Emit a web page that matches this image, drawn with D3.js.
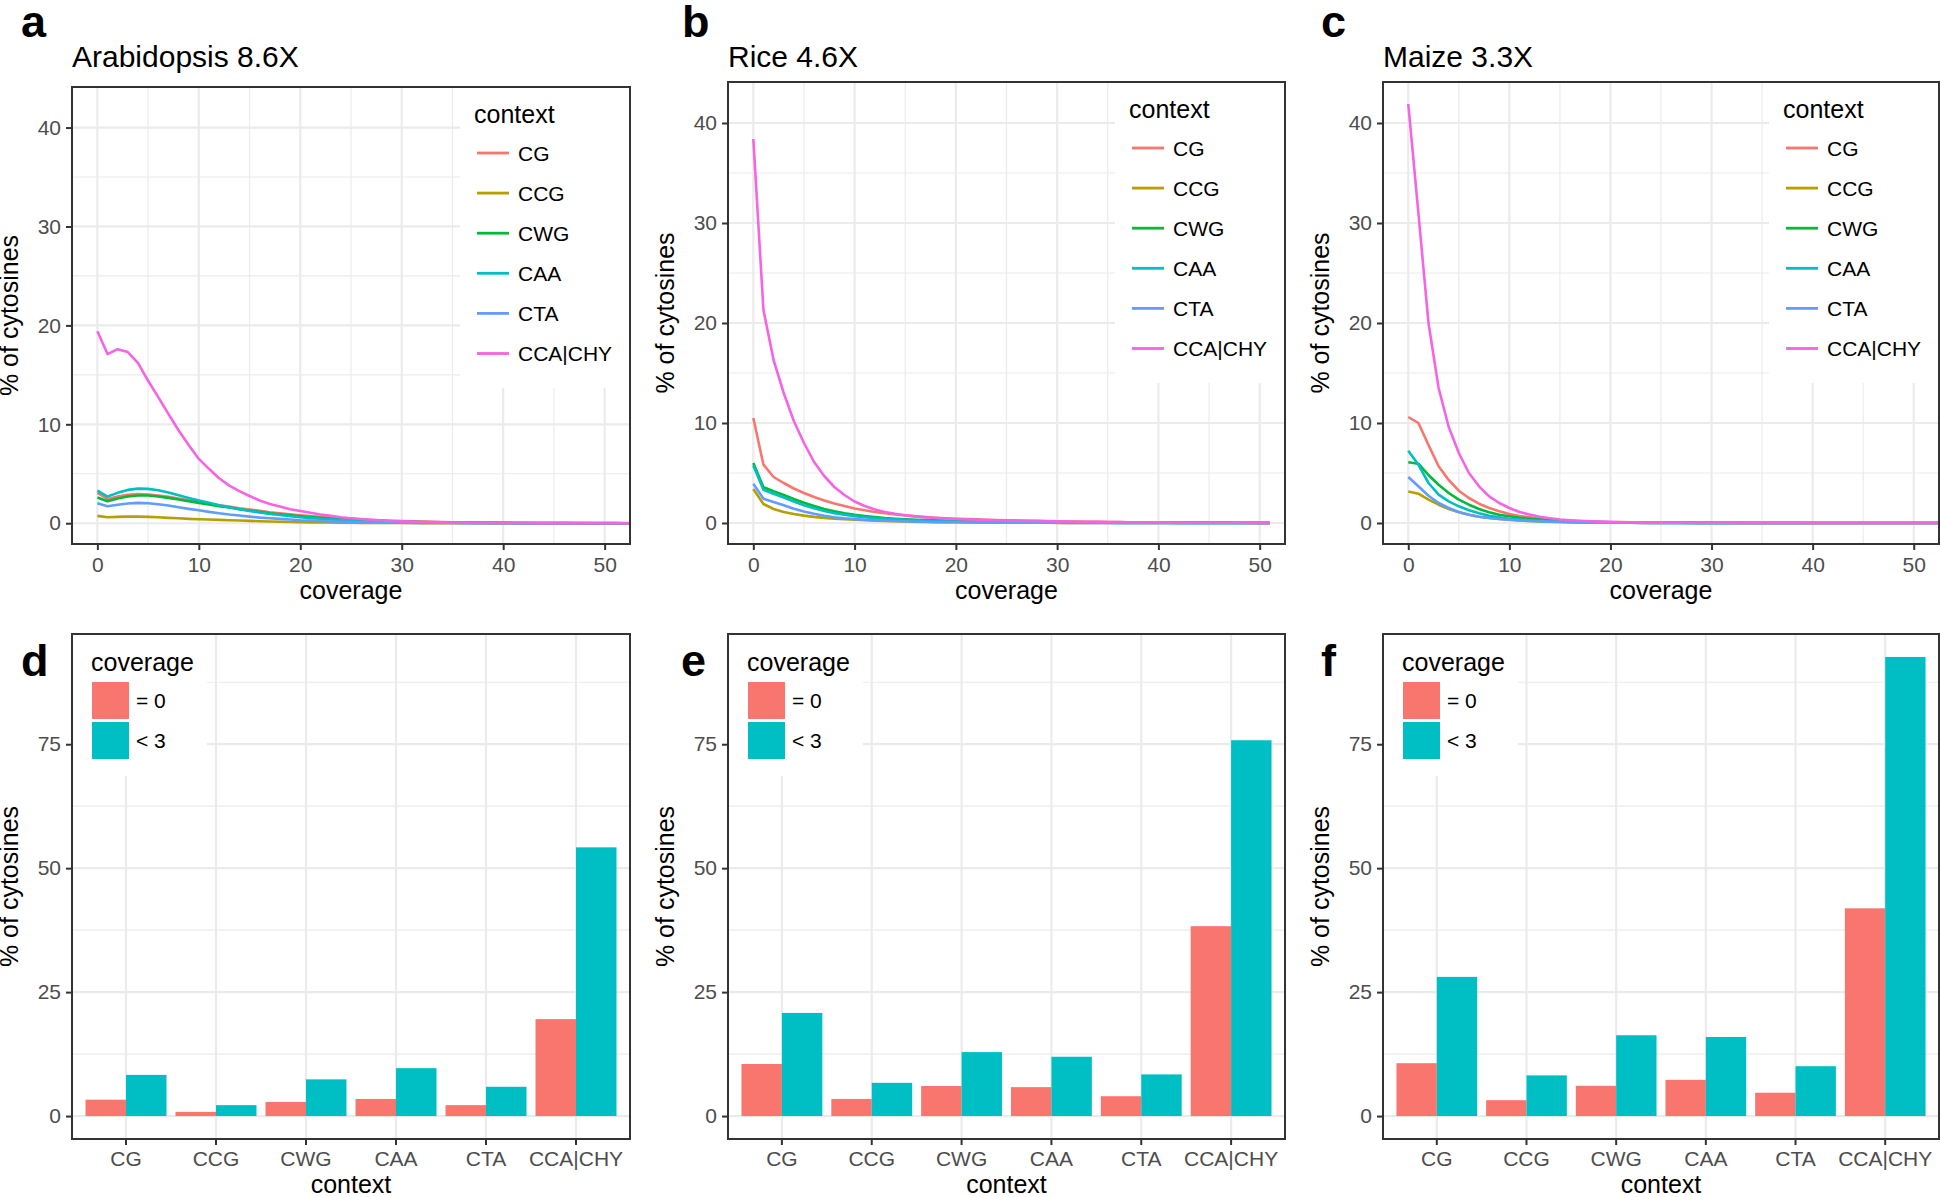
<!DOCTYPE html>
<html><head><meta charset="utf-8">
<script src="https://cdn.jsdelivr.net/npm/d3@7"></script>
<style>
html,body{margin:0;padding:0;background:#fff;}
svg{display:block;font-family:"Liberation Sans", Arial, Helvetica, sans-serif;}
</style></head><body>
<svg id="chart" width="1941" height="1197"></svg>
<script>
// ---------------- DATA ----------------
const contexts = ["CG","CCG","CWG","CAA","CTA","CCA|CHY"];
const contextColors = ["#F8766D","#B79F00","#00BA38","#00BFC4","#619CFF","#F564E3"];
const coverageTicks = [0,10,20,30,40,50];
const coverageMinor = [5,15,25,35,45];
const lineYTicks = [0,10,20,30,40];
const lineYMinor = [5,15,25,35];
const barYTicks = [0,25,50,75];
const barYMinor = [12.5,37.5,62.5,87.5];
const coverageGroups = ["= 0","< 3"];
const coverageColors = ["#F8766D","#00BFC4"];

// line series: % of cytosines at coverage 0,1,2,...
const arabCG  = [3.07,2.46,2.7,2.87,2.94,2.9,2.8,2.67,2.5,2.33, 2.16,2.0,1.82,1.69,1.52,1.38,1.25,1.11,1.01,0.91, 0.81,0.72,0.64,0.56,0.5,0.44,0.38,0.33,0.29,0.25, 0.22,0.19,0.16,0.14,0.12,0.1,0.09,0.08,0.07,0.06, 0.05,0.04,0.04,0.03,0.03,0.02,0.02,0.02,0.01,0.01, 0.01,0.01,0.01,0.01];
const arabCCG = [0.74,0.6,0.64,0.67,0.67,0.64,0.6,0.54,0.5,0.44, 0.4,0.37,0.34,0.3,0.27,0.24,0.2,0.17,0.15,0.13, 0.1,0.09,0.08,0.07,0.06,0.05,0.04,0.03,0.03,0.02, 0.02,0.02,0.01,0.01,0.01,0.01,0,0,0,0, 0,0,0,0,0,0,0,0,0,0, 0,0,0,0];
const arabCWG = [2.6,2.23,2.5,2.7,2.8,2.8,2.7,2.56,2.4,2.23, 2.06,1.89,1.72,1.59,1.42,1.28,1.15,1.01,0.91,0.81, 0.71,0.62,0.54,0.47,0.41,0.35,0.3,0.26,0.22,0.19, 0.16,0.14,0.12,0.1,0.09,0.08,0.07,0.06,0.05,0.04, 0.04,0.03,0.03,0.02,0.02,0.02,0.01,0.01,0.01,0.01, 0.01,0.01,0,0];
const arabCAA = [3.3,2.7,3.07,3.37,3.5,3.47,3.34,3.1,2.83,2.56, 2.3,2.06,1.82,1.62,1.42,1.25,1.08,0.94,0.84,0.7, 0.6,0.52,0.45,0.38,0.32,0.27,0.23,0.19,0.16,0.13, 0.11,0.09,0.08,0.07,0.06,0.05,0.04,0.03,0.03,0.02, 0.02,0.02,0.01,0.01,0.01,0.01,0.01,0,0,0, 0,0,0,0];
const arabCTA = [2.02,1.72,1.86,1.99,2.06,2.02,1.92,1.79,1.62,1.45, 1.32,1.15,1.01,0.88,0.78,0.67,0.57,0.5,0.44,0.37, 0.3,0.26,0.22,0.18,0.15,0.12,0.1,0.08,0.07,0.06, 0.05,0.04,0.03,0.03,0.02,0.02,0.02,0.01,0.01,0.01, 0.01,0,0,0,0,0,0,0,0,0, 0,0,0,0];
const arabCCA = [19.4,17.1,17.6,17.3,16.2,14.4,12.75,11.05,9.4,7.9, 6.5,5.5,4.55,3.8,3.25,2.75,2.3,1.95,1.68,1.42, 1.24,1.05,0.88,0.74,0.61,0.51,0.43,0.35,0.28,0.23, 0.19,0.16,0.13,0.11,0.09,0.07,0.06,0.05,0.04,0.03, 0.03,0.02,0.02,0.02,0.01,0.01,0.01,0.01,0.01,0, 0,0,0,0];

const riceCG  = [10.5,5.83,4.6,4.0,3.45,3.0,2.6,2.25,1.95,1.7, 1.45,1.27,1.1,0.97,0.85,0.75,0.66,0.59,0.52,0.47, 0.42,0.39,0.36,0.33,0.3,0.27,0.25,0.23,0.21,0.19, 0.17,0.15,0.14,0.12,0.11,0.1,0.09,0.08,0.07,0.06, 0.06,0.05,0.04,0.04,0.03,0.03,0.03,0.02,0.02,0.02, 0.01,0.01];
const riceCCG = [3.4,1.9,1.4,1.1,0.9,0.74,0.61,0.51,0.44,0.38, 0.33,0.28,0.24,0.21,0.18,0.15,0.13,0.11,0.09,0.08, 0.07,0.06,0.05,0.04,0.04,0.03,0.03,0.02,0.02,0.02, 0.01,0.01,0.01,0.01,0,0,0,0,0,0, 0,0,0,0,0,0,0,0,0,0, 0,0];
const riceCWG = [6.0,3.57,3.17,2.8,2.4,2.03,1.7,1.4,1.17,0.97, 0.82,0.7,0.6,0.5,0.43,0.37,0.33,0.3,0.27,0.25, 0.23,0.2,0.18,0.16,0.14,0.12,0.11,0.1,0.09,0.08, 0.07,0.06,0.05,0.05,0.04,0.04,0.03,0.03,0.02,0.02, 0.02,0.02,0.01,0.01,0.01,0.01,0.01,0.01,0,0, 0,0];
const riceCAA = [5.75,3.33,2.93,2.55,2.15,1.78,1.47,1.2,0.98,0.82, 0.69,0.58,0.49,0.42,0.36,0.31,0.27,0.23,0.2,0.17, 0.15,0.13,0.11,0.1,0.09,0.08,0.07,0.06,0.05,0.04, 0.04,0.03,0.03,0.02,0.02,0.02,0.01,0.01,0.01,0.01, 0.01,0,0,0,0,0,0,0,0,0, 0,0];
const riceCTA = [3.93,2.43,2.1,1.77,1.43,1.15,0.92,0.72,0.58,0.47, 0.39,0.33,0.28,0.24,0.2,0.17,0.14,0.12,0.1,0.09, 0.08,0.07,0.06,0.05,0.04,0.04,0.03,0.03,0.02,0.02, 0.02,0.01,0.01,0.01,0.01,0.01,0,0,0,0, 0,0,0,0,0,0,0,0,0,0, 0,0];
const riceCCA = [38.4,21.3,16.3,13.0,10.2,8.0,6.1,4.7,3.6,2.8, 2.15,1.7,1.35,1.1,0.92,0.77,0.66,0.57,0.5,0.44, 0.4,0.36,0.33,0.3,0.28,0.26,0.24,0.22,0.2,0.18, 0.16,0.15,0.13,0.12,0.11,0.1,0.09,0.08,0.07,0.06, 0.06,0.05,0.04,0.04,0.03,0.03,0.02,0.02,0.02,0.01, 0.01,0.01];

const maizeCG  = [10.6,10.0,7.8,5.67,4.3,3.23,2.5,1.93,1.5,1.17, 0.9,0.7,0.56,0.44,0.34,0.27,0.21,0.17,0.13,0.1, 0.08,0.06,0.05,0.04,0.03,0.03,0.02,0.02,0.02,0.01, 0.01,0.01,0.01,0.01,0,0,0,0,0,0, 0,0,0,0,0,0,0,0,0,0, 0,0,0,0];
const maizeCCG = [3.15,2.93,2.33,1.83,1.4,1.07,0.83,0.63,0.5,0.4, 0.32,0.25,0.2,0.16,0.12,0.1,0.08,0.06,0.05,0.04, 0.03,0.02,0.02,0.01,0.01,0.01,0,0,0,0, 0,0,0,0,0,0,0,0,0,0, 0,0,0,0,0,0,0,0,0,0, 0,0,0,0];
const maizeCWG = [6.07,5.93,4.8,3.83,3.0,2.33,1.83,1.4,1.07,0.83, 0.67,0.53,0.43,0.35,0.28,0.22,0.17,0.14,0.11,0.09, 0.07,0.06,0.05,0.04,0.03,0.02,0.02,0.02,0.01,0.01, 0.01,0,0,0,0,0,0,0,0,0, 0,0,0,0,0,0,0,0,0,0, 0,0,0,0];
const maizeCAA = [7.23,5.83,4.0,2.83,2.17,1.67,1.27,0.97,0.73,0.57, 0.43,0.34,0.27,0.21,0.16,0.13,0.1,0.08,0.06,0.05, 0.04,0.03,0.02,0.02,0.01,0.01,0.01,0,0,0, 0,0,0,0,0,0,0,0,0,0, 0,0,0,0,0,0,0,0,0,0, 0,0,0,0];
const maizeCTA = [4.6,3.67,2.73,2.0,1.5,1.1,0.83,0.63,0.5,0.4, 0.33,0.26,0.21,0.17,0.13,0.1,0.08,0.06,0.05,0.04, 0.03,0.02,0.02,0.01,0.01,0.01,0,0,0,0, 0,0,0,0,0,0,0,0,0,0, 0,0,0,0,0,0,0,0,0,0, 0,0,0,0];
const maizeCCA = [41.9,31.0,20.0,13.5,9.6,7.0,5.0,3.67,2.67,2.0, 1.5,1.1,0.85,0.63,0.48,0.35,0.28,0.22,0.17,0.14, 0.11,0.09,0.07,0.06,0.05,0.04,0.04,0.03,0.03,0.02, 0.02,0.02,0.02,0.01,0.01,0.01,0.01,0.01,0.01,0.01, 0,0,0,0,0,0,0,0,0,0, 0,0,0,0];

// bar series: % of cytosines per context
const arabZero    = [3.3,0.84,2.84,3.45,2.2,19.55];
const arabBelow3  = [8.3,2.2,7.4,9.66,5.9,54.2];
const riceZero    = [10.5,3.45,6.06,5.83,4.0,38.3];
const riceBelow3  = [20.8,6.7,12.9,11.96,8.4,75.8];
const maizeZero   = [10.66,3.2,6.1,7.3,4.7,41.9];
const maizeBelow3 = [28.07,8.2,16.3,15.95,10.05,92.6];

// ---------------- LAYOUT ----------------
const FONT = '"Liberation Sans", Arial, Helvetica, sans-serif';
const svg = d3.select("#chart");
svg.append("rect").attr("width",1941).attr("height",1197).attr("fill","#fff");

const GRID = "#EBEBEB", BORDER = "#333333", TICKTXT = "#4D4D4D";

const linePanels = [
  {letter:"a", letterX:21, title:"Arabidopsis 8.6X", left:72,   right:630,  top:87, series:[arabCG,arabCCG,arabCWG,arabCAA,arabCTA,arabCCA]},
  {letter:"b", letterX:682, title:"Rice 4.6X",       left:728,  right:1285, top:82, series:[riceCG,riceCCG,riceCWG,riceCAA,riceCTA,riceCCA]},
  {letter:"c", letterX:1321, title:"Maize 3.3X",     left:1383, right:1939, top:82, series:[maizeCG,maizeCCG,maizeCWG,maizeCAA,maizeCTA,maizeCCA]}
];
const barPanels = [
  {letter:"d", letterX:21,   left:72,   right:630,  zero:arabZero,  below:arabBelow3},
  {letter:"e", letterX:681,  left:728,  right:1285, zero:riceZero,  below:riceBelow3},
  {letter:"f", letterX:1321, left:1383, right:1939, zero:maizeZero, below:maizeBelow3}
];

function styleAxis(sel, size){
  sel.attr("font-family", FONT).attr("font-size", size);
  sel.select(".domain").remove();
  sel.selectAll(".tick line").attr("stroke", BORDER).attr("stroke-width", 2);
  sel.selectAll(".tick text").attr("fill", TICKTXT);
}

function drawLinePanel(p, idx){
  const bottom = 544;
  const g = svg.append("g");
  const x = d3.scaleLinear().domain([-2.5, 52.5]).range([p.left, p.right]);
  const y = d3.scaleLinear().domain([-2.1, 44.1]).range([bottom, p.top]);

  g.selectAll(".vminor").data(coverageMinor).join("line")
    .attr("x1", d=>x(d)).attr("x2", d=>x(d)).attr("y1", p.top).attr("y2", bottom)
    .attr("stroke", GRID).attr("stroke-width", 1.2);
  g.selectAll(".hminor").data(lineYMinor).join("line")
    .attr("y1", d=>y(d)).attr("y2", d=>y(d)).attr("x1", p.left).attr("x2", p.right)
    .attr("stroke", GRID).attr("stroke-width", 1.2);
  g.selectAll(".vmajor").data(coverageTicks).join("line")
    .attr("x1", d=>x(d)).attr("x2", d=>x(d)).attr("y1", p.top).attr("y2", bottom)
    .attr("stroke", GRID).attr("stroke-width", 2.2);
  g.selectAll(".hmajor").data(lineYTicks).join("line")
    .attr("y1", d=>y(d)).attr("y2", d=>y(d)).attr("x1", p.left).attr("x2", p.right)
    .attr("stroke", GRID).attr("stroke-width", 2.2);

  const clipId = "clipL" + idx;
  svg.append("clipPath").attr("id", clipId).append("rect")
    .attr("x", p.left).attr("y", p.top).attr("width", p.right - p.left).attr("height", bottom - p.top);
  const line = d3.line().x((d,i)=>x(i)).y(d=>y(d));
  g.append("g").attr("clip-path", `url(#${clipId})`)
    .selectAll("path").data(p.series).join("path")
    .attr("d", line).attr("fill","none")
    .attr("stroke", (d,i)=>contextColors[i]).attr("stroke-width", 2.6)
    .attr("stroke-linejoin","round").attr("stroke-linecap","butt");

  const lx = p.right - 170, ly = p.top;
  const lg = g.append("g");
  lg.append("rect").attr("x", lx).attr("y", ly + 1).attr("width", 169).attr("height", 300).attr("fill", "#fff");
  lg.append("text").attr("x", lx + 14).attr("y", ly + 36).text("context")
    .attr("font-family", FONT).attr("font-size", 25).attr("fill", "#000");
  const items = lg.selectAll(".item").data(contexts).join("g")
    .attr("transform", (d,i)=>`translate(${lx}, ${ly + 66 + i*40.1})`);
  items.append("line").attr("x1", 17).attr("x2", 49).attr("y1", 0).attr("y2", 0)
    .attr("stroke", (d,i)=>contextColors[i]).attr("stroke-width", 2.8);
  items.append("text").attr("x", 58).attr("y", 0).attr("dy", "0.36em").text(d=>d)
    .attr("font-family", FONT).attr("font-size", 21).attr("fill", "#000");

  g.append("rect").attr("x", p.left).attr("y", p.top).attr("width", p.right - p.left).attr("height", bottom - p.top)
    .attr("fill","none").attr("stroke", BORDER).attr("stroke-width", 2);

  const ax = g.append("g").attr("transform", `translate(0,${bottom})`)
    .call(d3.axisBottom(x).tickValues(coverageTicks).tickSize(6).tickPadding(7).tickFormat(d3.format("d")));
  styleAxis(ax, 21);
  const ay = g.append("g").attr("transform", `translate(${p.left},0)`)
    .call(d3.axisLeft(y).tickValues(lineYTicks).tickSize(6).tickPadding(5).tickFormat(d3.format("d")));
  styleAxis(ay, 21);

  g.append("text").attr("x", (p.left + p.right)/2).attr("y", 599).attr("text-anchor","middle")
    .attr("font-family", FONT).attr("font-size", 25).text("coverage");
  g.append("text").attr("transform", `translate(${p.left - 54},${(p.top + bottom)/2}) rotate(-90)`)
    .attr("text-anchor","middle").attr("font-family", FONT).attr("font-size", 25).text("% of cytosines");
  g.append("text").attr("x", p.left).attr("y", 67).attr("font-family", FONT).attr("font-size", 30).text(p.title);
  g.append("text").attr("x", p.letterX).attr("y", 37).attr("font-family", FONT).attr("font-size", 45)
    .attr("font-weight","bold").text(p.letter);
}

function drawBarPanel(p, idx){
  const top = 634, bottom = 1139;
  const g = svg.append("g");
  const x = d3.scaleBand().domain(contexts).range([p.left, p.right]).paddingInner(0.1).paddingOuter(0.15);
  const x1 = d3.scaleBand().domain(coverageGroups).range([0, x.bandwidth()]);
  const y = d3.scaleLinear().domain([-4.63, 97.23]).range([bottom, top]);

  g.selectAll(".hminor").data(barYMinor).join("line")
    .attr("y1", d=>y(d)).attr("y2", d=>y(d)).attr("x1", p.left).attr("x2", p.right)
    .attr("stroke", GRID).attr("stroke-width", 1.2);
  g.selectAll(".vmajor").data(contexts).join("line")
    .attr("x1", d=>x(d) + x.bandwidth()/2).attr("x2", d=>x(d) + x.bandwidth()/2).attr("y1", top).attr("y2", bottom)
    .attr("stroke", GRID).attr("stroke-width", 2.2);
  g.selectAll(".hmajor").data(barYTicks).join("line")
    .attr("y1", d=>y(d)).attr("y2", d=>y(d)).attr("x1", p.left).attr("x2", p.right)
    .attr("stroke", GRID).attr("stroke-width", 2.2);

  const rows = contexts.map((c,i)=>({c, vals:[p.zero[i], p.below[i]]}));
  const grp = g.selectAll(".bargrp").data(rows).join("g").attr("transform", d=>`translate(${x(d.c)},0)`);
  grp.selectAll("rect").data(d=>d.vals.map((v,j)=>({k:coverageGroups[j], v, j}))).join("rect")
    .attr("x", d=>x1(d.k)).attr("width", x1.bandwidth())
    .attr("y", d=>y(d.v)).attr("height", d=>y(0) - y(d.v))
    .attr("fill", d=>coverageColors[d.j]);

  const lg = g.append("g");
  lg.append("rect").attr("x", p.left + 1).attr("y", top + 1).attr("width", 134).attr("height", 141).attr("fill","#fff");
  lg.append("text").attr("x", p.left + 19).attr("y", top + 37).text("coverage")
    .attr("font-family", FONT).attr("font-size", 25).attr("fill","#000");
  const items = lg.selectAll(".item").data(coverageGroups).join("g")
    .attr("transform", (d,i)=>`translate(${p.left + 20},${top + 48 + i*40})`);
  items.append("rect").attr("width", 37).attr("height", 37).attr("fill", (d,i)=>coverageColors[i]);
  items.append("text").attr("x", 44).attr("y", 18.5).attr("dy","0.36em").text(d=>d)
    .attr("font-family", FONT).attr("font-size", 21).attr("fill","#000");

  g.append("rect").attr("x", p.left).attr("y", top).attr("width", p.right - p.left).attr("height", bottom - top)
    .attr("fill","none").attr("stroke", BORDER).attr("stroke-width", 2);

  const ax = g.append("g").attr("transform", `translate(0,${bottom})`)
    .call(d3.axisBottom(x).tickSize(6).tickPadding(6));
  styleAxis(ax, 21);
  const ay = g.append("g").attr("transform", `translate(${p.left},0)`)
    .call(d3.axisLeft(y).tickValues(barYTicks).tickSize(6).tickPadding(5).tickFormat(d3.format("d")));
  styleAxis(ay, 21);

  g.append("text").attr("x", (p.left + p.right)/2).attr("y", 1193).attr("text-anchor","middle")
    .attr("font-family", FONT).attr("font-size", 25).text("context");
  g.append("text").attr("transform", `translate(${p.left - 54},${(top + bottom)/2}) rotate(-90)`)
    .attr("text-anchor","middle").attr("font-family", FONT).attr("font-size", 25).text("% of cytosines");
  g.append("text").attr("x", p.letterX).attr("y", 676).attr("font-family", FONT).attr("font-size", 45)
    .attr("font-weight","bold").text(p.letter);
}

linePanels.forEach(drawLinePanel);
barPanels.forEach(drawBarPanel);
</script>
</body></html>
